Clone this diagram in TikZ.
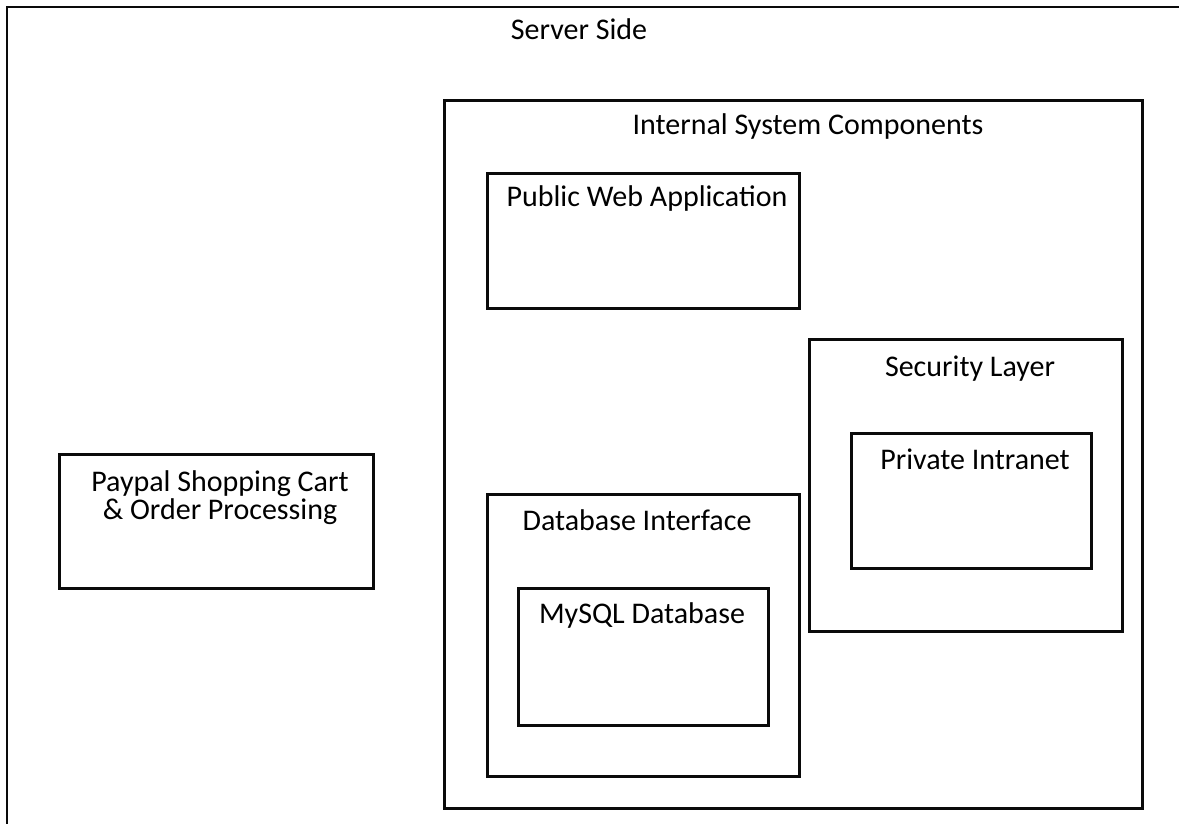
\documentclass[tikz,border=0pt]{standalone}
\usepackage{fontspec}
\setmainfont{Carlito}
\usepackage{tikz}
\usetikzlibrary{positioning}
\definecolor{boxline}{RGB}{10, 10, 10}

\tikzset{
  box/.style={draw=boxline, line width=2.8pt, rectangle, inner sep=0pt},
  boxlabel/.style={font=\fontsize{30}{28}\selectfont, anchor=base, inner sep=0pt, align=center}
}

\begin{document}
\begin{tikzpicture}[x=1pt, y=-1pt]
  \useasboundingbox (0,0) rectangle (1179,824);
  \clip (0,0) rectangle (1179,824);

  % server side (runs off the page)
  \draw[box] (7,7) rectangle (1200,850);
  \node[boxlabel] (server) at (579,40) {Server Side};

  % paypal
  \node[box, anchor=north west, minimum width=314pt, minimum height=134pt] (paypal) at (58,453) {};
  \node[boxlabel] (paypallbl) at (220,519) {Paypal Shopping Cart\\\& Order Processing};

  % internal system components
  \node[box, anchor=north west, minimum width=698pt, minimum height=708pt] (internal) at (443,99) {};
  \node[boxlabel] (internallbl) at (808,135) {Internal System Components};

  \node[box, anchor=north west, minimum width=312pt, minimum height=135pt] (webapp) at (486,172) {};
  \node[boxlabel] (webapplbl) at (647,207) {Public Web Application};

  \node[box, anchor=north west, minimum width=313pt, minimum height=292pt] (security) at (808,338) {};
  \node[boxlabel] (securitylbl) at (970,376) {Security Layer};

  \node[box, anchor=north west, minimum width=240pt, minimum height=135pt] (intranet) at (850,432) {};
  \node[boxlabel] (intranetlbl) at (975,469) {Private Intranet};

  \node[box, anchor=north west, minimum width=312pt, minimum height=282pt] (dbiface) at (486,493) {};
  \node[boxlabel] (dbifacelbl) at (637,530) {Database Interface};

  \node[box, anchor=north west, minimum width=250pt, minimum height=137pt] (mysql) at (517,587) {};
  \node[boxlabel] (mysqllbl) at (642,623) {MySQL Database};

\end{tikzpicture}
\end{document}
